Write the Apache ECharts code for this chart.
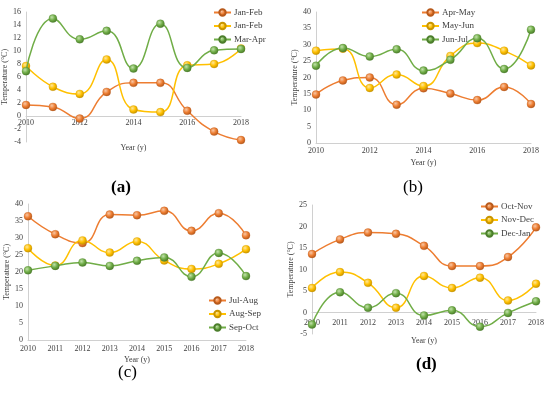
<!DOCTYPE html>
<html><head><meta charset="utf-8">
<script src="https://cdn.jsdelivr.net/npm/echarts@6/dist/echarts.min.js"></script>
<style>html,body{margin:0;padding:0;background:#fff;}#c{width:550px;height:395px;}</style>
</head><body><div id="c"></div>
<script>
const years = ['2010','2011','2012','2013','2014','2015','2016','2017','2018'];
// panel (a)
const aNames = ['Jan-Feb','Jan-Feb ','Mar-Apr'];
const aJanFeb = [1.7,1.4,-0.4,3.7,5.1,5.1,0.8,-2.4,-3.7];
const aJanFeb2 = [7.7,4.5,3.4,8.7,1.0,0.6,7.8,8.0,10.4];
const aMarApr = [6.9,15.0,11.8,13.1,7.3,14.2,7.4,10.1,10.3];
// panel (b)
const bNames = ['Apr-May','May-Jun','Jun-Jul'];
const bAprMay = [14.8,19.1,20.0,11.7,16.7,15.1,13.1,17.1,11.9];
const bMayJun = [28.2,28.8,16.8,20.9,17.4,26.6,30.5,28.2,23.7];
const bJunJul = [23.6,29.0,26.4,28.6,22.1,25.4,32.0,22.6,34.6];
// panel (c)
const cNames = ['Jul-Aug','Aug-Sep','Sep-Oct'];
const cJulAug = [36.4,31.1,28.5,36.9,36.7,38.0,32.1,37.3,30.8];
const cAugSep = [27.0,21.9,29.3,25.7,29.0,23.4,20.9,22.4,26.7];
const cSepOct = [20.5,21.8,22.8,21.8,23.3,24.3,18.6,25.6,18.8];
// panel (d)
const dNames = ['Oct-Nov','Nov-Dec','Dec-Jan'];
const dOctNov = [13.6,17.0,18.6,18.3,15.5,10.8,10.8,12.9,19.8];
const dNovDec = [5.7,9.4,6.9,1.1,8.5,5.7,8.1,2.8,6.7];
const dDecJan = [-2.8,4.7,1.1,4.5,-0.7,0.5,-3.3,-0.1,2.6];

const panelLabels = ['(a)','(b)','(c)','(d)'];
const yName = 'Temperature (\u00B0C)';
const xName = 'Year (y)';

const FONT = 'Liberation Serif';
const TXT = '#404040';
const AX = '#D0D0D0';
const colors = [
  {base:'#ED7D31', light:'#F8C7A4', dark:'#B85A1C'},
  {base:'#FFC000', light:'#FFE79A', dark:'#C99500'},
  {base:'#70AD47', light:'#C3E2AC', dark:'#4C7E2C'}
];
function sphere(c){
  return {type:'radial', x:0.38, y:0.35, r:0.65, colorStops:[
    {offset:0, color:c.light},{offset:0.55, color:c.base},{offset:1, color:c.dark}]};
}

const grids = [
  {left:26, top:12, width:215, height:130},
  {left:316, top:12, width:215, height:131},
  {left:28, top:204, width:218, height:136},
  {left:312, top:205, width:224, height:129}
];
const yCfg = [
  {min:-4, max:16, interval:2, nameGap:14},
  {min:0, max:40, interval:5, nameGap:16},
  {min:0, max:40, interval:5, nameGap:14},
  {min:-5, max:25, interval:5, nameGap:14}
];
const xCfg = [
  {labelInterval:1, margin:3, nameGap:28},
  {labelInterval:1, margin:4, nameGap:16},
  {labelInterval:0, margin:5, nameGap:16},
  {labelInterval:0, margin:6, nameGap:24}
];
const panelSeries = [
  [aNames,[aJanFeb,aJanFeb2,aMarApr]],
  [bNames,[bAprMay,bMayJun,bJunJul]],
  [cNames,[cJulAug,cAugSep,cSepOct]],
  [dNames,[dOctNov,dNovDec,dDecJan]]
];
const legendPos = [
  {left:213, top:8},
  {left:421, top:8},
  {left:208, top:296},
  {left:480, top:202}
];
const labelPos = [[120,188,'bold'],[412,188,'normal'],[127,373,'normal'],[425,365,'bold']];

// place the x axis line where y = 0 (the axis crosses at zero)
function zeroOffset(i){
  const g = grids[i], y = yCfg[i];
  if (y.min >= 0) return 0;
  return -g.height * (0 - y.min) / (y.max - y.min);
}

const xAxis = [], yAxis = [], series = [], legend = [], graphic = [];
for (let i=0;i<4;i++){
  xAxis.push({type:'category', gridIndex:i, data:years, boundaryGap:false,
    position:'bottom', offset:zeroOffset(i),
    name:xName, nameLocation:'middle', nameGap:xCfg[i].nameGap,
    nameTextStyle:{fontFamily:FONT, fontSize:8, color:TXT},
    axisLine:{onZero:false, lineStyle:{color:AX, width:1}},
    axisTick:{show:false},
    axisLabel:{interval:xCfg[i].labelInterval, margin:xCfg[i].margin, fontFamily:FONT, fontSize:8, color:TXT},
    splitLine:{show:false}});
  yAxis.push({type:'value', gridIndex:i, min:yCfg[i].min, max:yCfg[i].max, interval:yCfg[i].interval,
    name:yName, nameLocation:'middle', nameGap:yCfg[i].nameGap, nameRotate:90,
    nameTextStyle:{fontFamily:FONT, fontSize:8, color:TXT},
    axisLine:{show:true, onZero:false, lineStyle:{color:AX, width:1}},
    axisTick:{show:false},
    axisLabel:{margin:5, fontFamily:FONT, fontSize:8, color:TXT},
    splitLine:{show:false}});
  const [names, arrs] = panelSeries[i];
  for (let j=0;j<3;j++){
    series.push({type:'line', name:names[j], xAxisIndex:i, yAxisIndex:i, data:arrs[j],
      smooth:0.5, symbol:'circle', symbolSize:8,
      lineStyle:{color:colors[j].base, width:1.5},
      itemStyle:{color:sphere(colors[j]), borderColor:colors[j].dark, borderWidth:0.3},
      z:3+j});
  }
  legend.push({data:names.map((n,k)=>({name:n, itemStyle:{color:sphere(colors[k])}})),
    orient:'vertical', left:legendPos[i].left, top:legendPos[i].top,
    itemWidth:17, itemHeight:8, itemGap:4.5, padding:0,
    textStyle:{fontFamily:FONT, fontSize:9, color:TXT, padding:[0,0,0,-2]},
    selectedMode:false});
  graphic.push({type:'text', left:labelPos[i][0]-9, top:labelPos[i][1]-9,
    style:{text:panelLabels[i], font: labelPos[i][2]+' 17px "Liberation Serif"', fill:'#000'}});
}

const chart = echarts.init(document.getElementById('c'), null, {renderer:'canvas'});
chart.setOption({
  animation:false,
  backgroundColor:'#fff',
  grid:grids.map(g=>Object.assign({containLabel:false}, g)),
  xAxis, yAxis, series, legend, graphic
});
</script></body></html>
